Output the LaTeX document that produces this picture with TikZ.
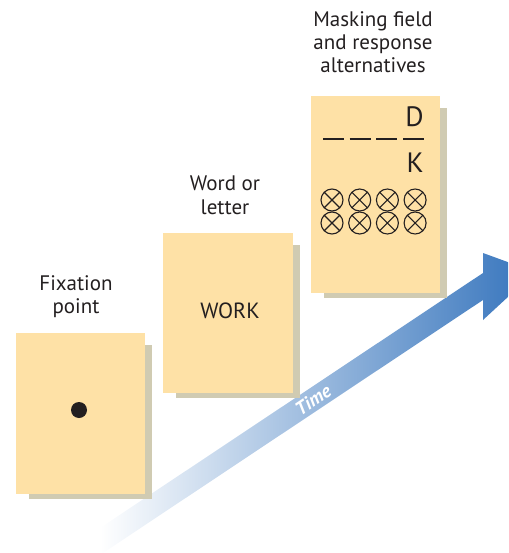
\documentclass[tikz,border=0pt]{standalone}
\usepackage{fontspec}
\setmainfont{PT Sans}
\usetikzlibrary{arrows.meta,calc,positioning,backgrounds}
\definecolor{CardYellow}{RGB}{254,225,166}
\definecolor{ShadowOlive}{RGB}{208,203,178}
\definecolor{InkGray}{RGB}{35,31,32}
\definecolor{TimeBlue}{RGB}{52,115,188}
\definecolor{TimeMid}{RGB}{140,162,214}

\begin{document}
\begin{tikzpicture}[x=1pt,y=-1pt,
    card/.style={fill=CardYellow,minimum width=129pt,inner sep=0pt},
    caption/.style={align=center,text=InkGray,font=\fontsize{21}{23}\selectfont,anchor=base},
    cardtext/.style={text=InkGray,inner sep=0pt,anchor=base}]
  \useasboundingbox (0,0) rectangle (508,553);
  \node[card,minimum height=161pt] (fix) at (80.5,413.5) {};
  \node[card,minimum width=130pt,minimum height=160pt] (word) at (228,313) {};
  \node[card,minimum height=197pt] (mask) at (375.5,194.5) {};
  \node[caption] (fixlbl) at (76,313) {Fixation\\point};
  \node[caption] (wordlbl) at (225,214) {Word or\\letter};
  \node[caption] (masklbl) at (373,73) {Masking field\\and response\\alternatives};
  \fill[InkGray] (79,410) circle (8pt);
  \node[cardtext,font=\fontsize{22}{22}\selectfont] (worktxt) at (230,318) {WORK};
  \node[cardtext,anchor=base east,font=\fontsize{28}{28}\selectfont] (dtxt) at (424,127) {D};
  \node[cardtext,anchor=base east,font=\fontsize{28}{28}\selectfont] (ktxt) at (424,173) {K};
  \foreach \i in {0,...,3}{
    \draw[InkGray,line width=1.4pt] (323+26.7*\i,139) -- ++(21,0);
    \foreach \j in {0,1}{
      \draw[InkGray,line width=1.1pt] (332+27.7*\i,200+23*\j) circle (11pt)
        ++(-7.8,-7.8) -- ++(15.6,15.6) ++(0,-15.6) -- ++(-15.6,15.6);
    }
  }
  \begin{scope}[on background layer]
    \clip (0,0) rectangle (508,553);
    \shade[left color=white,middle color=TimeMid,right color=TimeBlue]
      (100,528) -- (483,273) -- (483,253) -- (535,272) -- (483,320)
      -- (483,300) -- (100,555) -- cycle;
    \foreach \n in {fix,word,mask}
      \fill[ShadowOlive] ($(\n.north west)+(13,12)$) rectangle ($(\n.south east)+(7,5)$);
  \end{scope}
  \node[rotate=33.6,text=white,inner sep=0pt,font=\fontsize{19}{19}\selectfont\bfseries\itshape] (timelbl) at (313,400) {Time};
\end{tikzpicture}
\end{document}
